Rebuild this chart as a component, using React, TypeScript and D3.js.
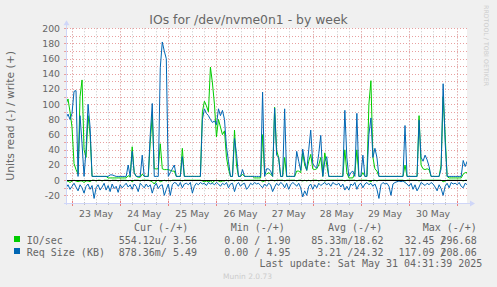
import React from "react";
import * as d3 from "d3";

// hourly samples starting 22 May 2025 21:00
const startTime = new Date(2025, 4, 22, 21, 0);

// IO/sec write (+)
const ioWrite = [
  100, 107, 90, 70, 22, 14, 8, 110, 132, 40,
  30, 85, 60, 5, 5, 5, 5, 5, 5, 5,
  5, 3, 3, 3, 3, 3, 3, 3, 3, 3,
  3, 6, 4, 44, 10, 5, 4, 4, 8, 5,
  5, 5, 50, 86, 15, 15, 15, 48, 15, 14,
  14, 14, 13, 12, 12, 5, 5, 5, 42, 5,
  5, 5, 5, 5, 5, 5, 5, 5, 90, 104,
  98, 90, 149, 128, 100, 57, 80, 70, 60, 65,
  30, 15, 5, 5, 66, 20, 5, 5, 8, 5,
  5, 5, 5, 5, 3, 3, 3, 3, 60, 10,
  8, 10, 8, 5, 96, 39, 30, 5, 5, 30,
  5, 5, 5, 5, 5, 12, 12, 10, 36, 20,
  13, 25, 34, 15, 14, 15, 20, 30, 5, 36,
  20, 5, 5, 5, 5, 5, 5, 5, 5, 40,
  10, 3, 3, 3, 10, 40, 5, 5, 10, 5,
  5, 100, 131, 30, 15, 12, 5, 5, 5, 5,
  5, 5, 5, 5, 5, 5, 5, 5, 5, 20,
  5, 5, 5, 5, 5, 5, 85, 20, 15, 14,
  15, 14, 5, 5, 5, 5, 5, 20, 110, 60,
  5, 3, 3, 3, 3, 3, 3, 3, 8, 10,
  10,
];

// IO/sec read (-)
const ioRead = [
  2, 1, 3, 1, 0, 1, 2, 1, 1, 3,
  1, 1, 2, 0, 0, 1, 0, 0, 1, 0,
  0, 0, 1, 0, 0, 0, 1, 0, 0, 0,
  0, 1, 0, 2, 0, 0, 0, 1, 0, 0,
  0, 0, 1, 2, 5, 1, 0, 2, 1, 0,
  1, 0, 1, 0, 0, 0, 0, 0, 1, 0,
  0, 0, 0, 0, 0, 0, 0, 0, 1, 2,
  1, 2, 1, 3, 1, 0, 1, 2, 1, 1,
  0, 1, 0, 0, 1, 0, 0, 0, 1, 0,
  0, 0, 0, 0, 0, 0, 0, 0, 2, 1,
  0, 1, 0, 0, 1, 0, 0, 0, 0, 1,
  0, 0, 0, 0, 0, 1, 0, 0, 1, 0,
  1, 0, 1, 0, 0, 0, 1, 0, 0, 1,
  0, 0, 0, 0, 0, 0, 0, 0, 0, 1,
  0, 0, 0, 0, 0, 1, 0, 0, 0, 0,
  0, 1, 2, 0, 0, 1, 0, 0, 0, 0,
  0, 0, 0, 0, 0, 0, 0, 0, 0, 1,
  0, 0, 0, 0, 0, 0, 1, 0, 0, 0,
  0, 0, 0, 0, 0, 0, 0, 0, 2, 1,
  0, 0, 0, 0, 0, 0, 0, 0, 1, 0,
  0,
];

// Req Size (KB) write (+)
const reqWrite = [
  82, 87, 80, 88, 117, 118, 5, 85, 48, 5,
  40, 100, 70, 5, 5, 5, 5, 5, 5, 5,
  5, 5, 7, 7, 6, 5, 5, 5, 5, 5,
  5, 20, 5, 38, 10, 5, 5, 5, 33, 5,
  5, 5, 60, 101, 5, 5, 5, 148, 182, 170,
  160, 5, 10, 15, 20, 5, 5, 5, 31, 5,
  5, 5, 5, 5, 5, 5, 5, 5, 80, 94,
  88, 85, 80, 76, 78, 73, 94, 85, 92, 80,
  44, 25, 5, 5, 55, 35, 5, 5, 14, 5,
  5, 5, 5, 5, 5, 5, 5, 5, 116, 5,
  15, 15, 12, 5, 95, 33, 30, 5, 5, 94,
  5, 5, 5, 5, 5, 38, 25, 13, 41, 25,
  13, 40, 66, 22, 18, 16, 35, 59, 5, 25,
  31, 5, 5, 5, 5, 5, 5, 5, 5, 92,
  30, 5, 10, 12, 5, 88, 5, 5, 33, 5,
  5, 60, 82, 30, 42, 30, 5, 5, 5, 5,
  5, 5, 5, 5, 5, 5, 5, 5, 5, 72,
  5, 5, 5, 5, 5, 5, 79, 30, 25, 33,
  27, 18, 5, 5, 5, 5, 5, 15, 127, 50,
  5, 5, 5, 5, 5, 5, 5, 5, 26, 18,
  25,
];

// Req Size (KB) read (-)
const reqRead = [
  10, 6, 12, 8, 4, 9, 14, 6, 10, 17,
  8, 5, 12, 7, 24, 10, 6, 13, 9, 4,
  13, 7, 15, 5, 11, 8, 16, 6, 10, 7,
  4, 9, 6, 12, 5, 8, 15, 4, 7, 10,
  5, 9, 6, 17, 8, 4, 11, 7, 6, 20,
  12, 5, 20, 6, 3, 4, 8, 3, 10, 5,
  4, 6, 3, 17, 8, 4, 6, 3, 5, 4,
  7, 3, 5, 4, 6, 3, 5, 8, 4, 6,
  3, 10, 5, 4, 15, 6, 3, 8, 5, 4,
  12, 9, 4, 6, 3, 5, 4, 7, 10, 5,
  8, 4, 6, 15, 9, 4, 7, 3, 5, 10,
  4, 12, 6, 3, 5, 8, 4, 10, 22, 14,
  20, 8, 5, 12, 6, 10, 4, 7, 5, 3,
  6, 4, 8, 3, 5, 6, 4, 9, 5, 13,
  8, 13, 5, 7, 3, 12, 6, 4, 10, 5,
  3, 6, 4, 8, 5, 12, 24, 6, 3, 5,
  4, 8, 20, 5, 3, 2, 1, 2, 1, 3,
  5, 8, 4, 12, 6, 14, 9, 3, 5, 7,
  4, 6, 3, 5, 9, 14, 6, 11, 20, 8,
  4, 10, 3, 5, 4, 6, 3, 8, 10, 4,
  6,
];

const yTicks = [-20, 0, 20, 40, 60, 80, 100, 120, 140, 160, 180, 200];
const seriesNames = ["IO/sec", "Req Size (KB)"];
const seriesColors = ["#00CC00", "#0066B3"];
const legendHeaders = ["Cur (-/+)", "Min (-/+)", "Avg (-/+)", "Max (-/+)"];
const legendCur = ["554.12u/ 3.56", "878.36m/ 5.49"];
const legendMin = ["0.00 / 1.90", "0.00 / 4.95"];
const legendAvg = ["85.33m/18.62", "3.21 /24.32"];
const legendMaxRead = ["32.45", "117.09"];
const legendMaxWrite = ["296.68", "208.06"];
const titleText = "IOs for /dev/nvme0n1 - by week";
const yTitle = "Units read (-) / write (+)";
const lastUpdate = "Last update: Sat May 31 04:31:39 2025";

const W = 497;
const H = 287;
const L = 67, R = 467, T = 28.3, B = 203;
const FONT = "DejaVu Sans, sans-serif";
const MONO = "DejaVu Sans Mono, monospace";
const TXT = "#666";

export default function App() {
  const x = d3
    .scaleTime()
    .domain([new Date(2025, 4, 22, 21, 30), new Date(2025, 4, 31, 4, 54)])
    .range([L, R]);
  const y = d3.scaleLinear().domain([-30, 200]).range([B, T]);
  const times = ioWrite.map((_, i) => d3.timeHour.offset(startTime, i));
  const line = d3
    .line<number>()
    .x((_, i) => x(times[i]))
    .y((v) => y(v));

  const hGrid = d3.range(-20, 201, 10);
  const [d0, d1] = x.domain();
  const minor = d3.timeHour.every(6)!.range(d0, d1);
  const major = d3.timeDay.range(d0, d1);
  const noons = major.map((d) => d3.timeHour.offset(d, 12)).filter((d) => x(d) < R);
  const fmt = d3.timeFormat("%d %b");
  const cw = 6.02;
  const rowY = [243.5, 255.5];

  return (
    <div style={{ position: "absolute", left: 0, top: 0 }}>
      <svg width={W} height={H} style={{ display: "block" }}>
        <defs>
          <clipPath id="plot">
            <rect x={L} y={T - 2} width={R - L} height={B - T + 2} />
          </clipPath>
        </defs>
        <rect width={W} height={H} fill="#F0F0F0" />
        <rect x={L} y={T} width={R - L} height={B - T} fill="#FFFFFF" />
        {/* minor vertical grid */}
        {minor.map((d, i) => (
          <line key={"mv" + i} x1={Math.round(x(d)) + 0.5} x2={Math.round(x(d)) + 0.5} y1={T} y2={B}
            stroke="#C8C8C8" strokeDasharray="1,2" />
        ))}
        {/* horizontal grid */}
        {hGrid.map((v) => (
          <line key={"hg" + v} x1={L} x2={R} y1={Math.round(y(v)) + 0.5} y2={Math.round(y(v)) + 0.5}
            stroke="#E8A0A0" strokeDasharray="1,2" />
        ))}
        {/* major vertical grid */}
        {major.map((d, i) => (
          <line key={"Mv" + i} x1={Math.round(x(d)) + 0.5} x2={Math.round(x(d)) + 0.5} y1={T} y2={B}
            stroke="#E8A0A0" strokeDasharray="1,2" />
        ))}
        {/* y ticks */}
        {hGrid.map((v) => (
          <line key={"yt" + v} x1={L - 3} x2={L} y1={Math.round(y(v)) + 0.5} y2={Math.round(y(v)) + 0.5}
            stroke="#E8A0A0" />
        ))}
        {/* x ticks */}
        {minor.map((d, i) => (
          <line key={"xt" + i} x1={Math.round(x(d)) + 0.5} x2={Math.round(x(d)) + 0.5} y1={B - 1} y2={B + 2}
            stroke="#C0C0C0" />
        ))}
        {major.map((d, i) => (
          <line key={"xT" + i} x1={Math.round(x(d)) + 0.5} x2={Math.round(x(d)) + 0.5} y1={B - 2} y2={B + 3}
            stroke="#E88080" />
        ))}
        {/* data */}
        <g clipPath="url(#plot)" fill="none" strokeWidth={1}>
          <path d={line(ioRead.map((v) => -v)) || ""} stroke={seriesColors[0]} />
          <path d={line(ioWrite) || ""} stroke={seriesColors[0]} />
          <path d={line(reqRead.map((v) => -v)) || ""} stroke={seriesColors[1]} />
          <path d={line(reqWrite) || ""} stroke={seriesColors[1]} />
        </g>
        <line x1={L} x2={R} y1={Math.round(y(0)) + 0.5} y2={Math.round(y(0)) + 0.5} stroke="#000" />
        {/* axes */}
        <line x1={L - 0.5} x2={L - 0.5} y1={B + 2} y2={T - 4} stroke="#CFD6F8" />
        <path d={`M${L - 3.5},${T - 3} L${L - 0.5},${T - 8} L${L + 2.5},${T - 3} Z`} fill="#CFD6F8" />
        <line x1={L - 3} x2={R + 3} y1={B + 0.5} y2={B + 0.5} stroke="#CFD6F8" />
        <path d={`M${R + 3},${B - 2.5} L${R + 8},${B + 0.5} L${R + 3},${B + 3.5} Z`} fill="#CFD6F8" />
        {/* y labels */}
        {yTicks.map((v) => (
          <text key={"yl" + v} x={60} y={y(v) + 3.4} textAnchor="end" fontFamily={FONT} fontSize={9.3} fill={TXT}>
            {v}
          </text>
        ))}
        {/* x labels */}
        {noons.map((d, i) => (
          <text key={"xl" + i} x={x(d)} y={216.5} textAnchor="middle" fontFamily={FONT} fontSize={9.3} fill={TXT}>
            {fmt(d)}
          </text>
        ))}
        {/* title */}
        <text x={248.5} y={23.5} textAnchor="middle" fontFamily={FONT} fontSize={12.4} fill={TXT}>
          {titleText}
        </text>
        <text transform="translate(13.8,115.8) rotate(-90)" textAnchor="middle" fontFamily={FONT} fontSize={10.8} fill={TXT}>
          {yTitle}
        </text>
        {/* watermark */}
        <text transform="translate(484.3,5) rotate(90)" fontFamily={FONT} fontSize={6.3} fill="#CCCCCC">
          RRDTOOL / TOBI OETIKER
        </text>
        {/* legend */}
        {legendHeaders.map((h, i) => (
          <text key={"lh" + i} x={[134, 230.7, 328, 422.7][i]} y={231} fontFamily={MONO} fontSize={10} fill={TXT}>
            {h}
          </text>
        ))}
        {seriesNames.map((n, i) => (
          <g key={"lr" + i}>
            <rect x={14} y={rowY[i] - 7.5} width={6} height={6} fill={seriesColors[i]} />
            <text x={26.7} y={rowY[i]} fontFamily={MONO} fontSize={10} fill={TXT}>{n}</text>
            <text x={197} y={rowY[i]} textAnchor="end" fontFamily={MONO} fontSize={10} fill={TXT}>{legendCur[i]}</text>
            <text x={290.5} y={rowY[i]} textAnchor="end" fontFamily={MONO} fontSize={10} fill={TXT}>{legendMin[i]}</text>
            <text x={383.5} y={rowY[i]} textAnchor="end" fontFamily={MONO} fontSize={10} fill={TXT}>{legendAvg[i]}</text>
            <text x={476.7} y={rowY[i]} textAnchor="end" fontFamily={MONO} fontSize={10} fill={TXT}
              style={{ whiteSpace: "pre" }}>{legendMaxRead[i] + " " + legendMaxWrite[i]}</text>
            <text x={476.7 - 5.6 * cw} y={rowY[i]} textAnchor="middle" fontFamily={MONO} fontSize={10} fill={TXT}>/</text>
          </g>
        ))}
        <text x={482.3} y={267} textAnchor="end" fontFamily={MONO} fontSize={10} fill={TXT}>
          {lastUpdate}
        </text>
        <text x={223} y={279} fontFamily={FONT} fontSize={7.5} fill="#CCCCCC">
          Munin 2.0.73
        </text>
      </svg>
    </div>
  );
}
